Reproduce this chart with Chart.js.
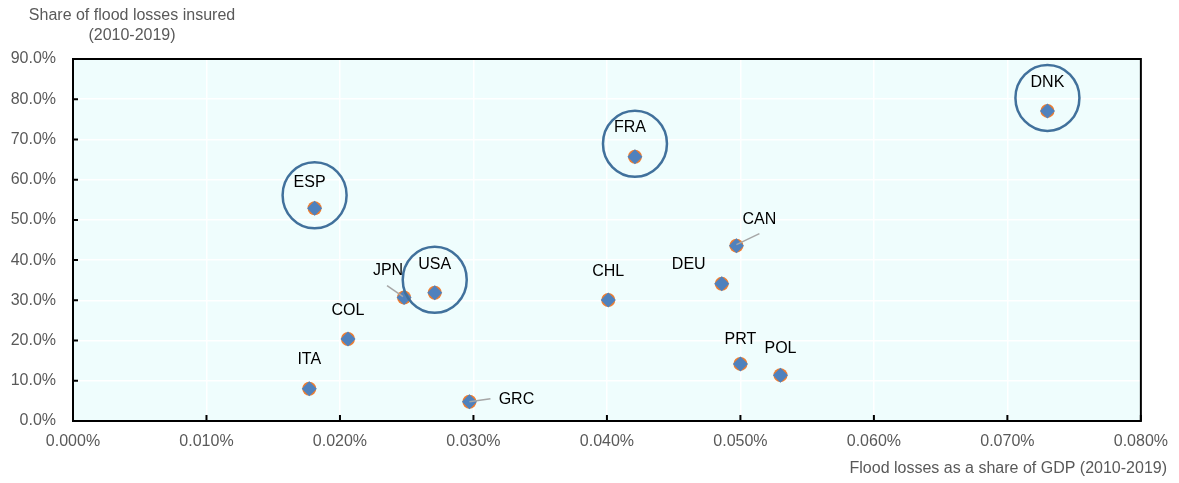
<!DOCTYPE html>
<html>
<head>
<meta charset="utf-8">
<script src="https://cdn.jsdelivr.net/npm/chart.js@4.4.0/dist/chart.umd.min.js"></script>
<style>
  html, body { margin: 0; padding: 0; background: #fff; }
  #wrap { width: 1179px; height: 483px; }
</style>
</head>
<body>
<div id="wrap"><canvas id="flood-chart"></canvas></div>
<script>
// data
var countries = ['DNK', 'FRA', 'ESP', 'CAN', 'DEU', 'USA', 'JPN', 'CHL', 'COL', 'PRT', 'POL', 'ITA', 'GRC'];
var lossShareGdp = [0.0730, 0.0421, 0.0181, 0.0497, 0.0486, 0.0271, 0.0248, 0.0401, 0.0206, 0.0500, 0.0530, 0.0177, 0.0297];
var insuredShare = [77.1, 65.7, 52.9, 43.6, 34.1, 31.9, 30.7, 30.1, 20.4, 14.2, 11.4, 8.0, 4.8];
var circled = ['DNK', 'FRA', 'ESP', 'USA'];

var yTitle = ['Share of flood losses insured', '(2010-2019)'];
var xTitle = 'Flood losses as a share of GDP (2010-2019)';

// label placement (pixels from the marker)
var labelOffset = {
    DNK: [0, -28], FRA: [-5, -29], ESP: [-5, -26], CAN: [23, -26], DEU: [-33, -19],
    USA: [0, -28], JPN: [-16, -27], CHL: [0, -28], COL: [0, -28], PRT: [0, -24],
    POL: [0, -27], ITA: [0, -29], GRC: [47, -2]
};
var leaders = {
    JPN: [-17, -12, -1, -1],
    CAN: [23, -12, 0, -1],
    GRC: [21, -3, 0, 0]
};

var points = countries.map(function (c, i) {
    return { x: lossShareGdp[i], y: insuredShare[i], label: c };
});

var textGrey = '#595959';
var font = '16px "Liberation Sans", Arial, sans-serif';

var decorPlugin = {
    id: 'decor',
    beforeDraw: function (chart) {
        var ctx = chart.ctx, a = chart.chartArea;
        ctx.save();
        ctx.fillStyle = '#EFFDFD';
        ctx.fillRect(a.left, a.top, a.right - a.left, a.bottom - a.top);
        ctx.restore();
    },
    afterDatasetsDraw: function (chart) {
        var ctx = chart.ctx, a = chart.chartArea;
        var xs = chart.scales.x, ys = chart.scales.y;
        ctx.save();
        // frame
        ctx.strokeStyle = '#000';
        ctx.lineWidth = 2;
        ctx.strokeRect(a.left, a.top, a.right - a.left, a.bottom - a.top);
        // inward tick marks
        ctx.beginPath();
        ys.ticks.forEach(function (t) {
            var py = ys.getPixelForValue(t.value);
            ctx.moveTo(a.left, py);
            ctx.lineTo(a.left + 5, py);
        });
        xs.ticks.forEach(function (t) {
            var px = xs.getPixelForValue(t.value);
            ctx.moveTo(px, a.bottom);
            ctx.lineTo(px, a.bottom - 6);
        });
        ctx.stroke();

        // leader lines, labels and rings
        ctx.font = font;
        ctx.textAlign = 'center';
        ctx.textBaseline = 'middle';
        points.forEach(function (p) {
            var px = xs.getPixelForValue(p.x), py = ys.getPixelForValue(p.y);
            var l = leaders[p.label];
            if (l) {
                ctx.strokeStyle = '#A6A6A6';
                ctx.lineWidth = 1.5;
                ctx.beginPath();
                ctx.moveTo(px + l[0], py + l[1]);
                ctx.lineTo(px + l[2], py + l[3]);
                ctx.stroke();
            }
            var o = labelOffset[p.label];
            ctx.fillStyle = '#000';
            ctx.fillText(p.label, px + o[0], py + o[1]);
            if (circled.indexOf(p.label) >= 0) {
                ctx.strokeStyle = '#41719C';
                ctx.lineWidth = 2.5;
                ctx.beginPath();
                ctx.ellipse(px, py - 13, 32, 33, 0, 0, Math.PI * 2);
                ctx.stroke();
            }
        });

        // axis titles
        ctx.fillStyle = textGrey;
        ctx.textAlign = 'center';
        ctx.fillText(yTitle[0], 132, 16);
        ctx.fillText(yTitle[1], 132, 36);
        ctx.textAlign = 'right';
        ctx.fillText(xTitle, 1167, 469);
        ctx.restore();
    }
};

var ctx = document.getElementById('flood-chart').getContext('2d');

var chart = new Chart(ctx, {
    type: 'scatter',
    data: {
        datasets: [{
            data: points,
            pointStyle: 'rectRot',
            pointRadius: 7.5,
            backgroundColor: '#4F81BD',
            borderWidth: 0
        }, {
            data: points,
            pointStyle: 'circle',
            pointRadius: 7,
            backgroundColor: '#ED7D31',
            borderWidth: 0
        }]
    },
    options: {
        responsive: true,
        maintainAspectRatio: false,
        animation: false,
        layout: { padding: { left: 0, top: 59, right: 36, bottom: 0 } },
        plugins: {
            legend: { display: false },
            tooltip: { enabled: false }
        },
        scales: {
            x: {
                type: 'linear',
                min: 0,
                max: 0.08,
                afterFit: function (s) { s.height = 62; },
                grid: { color: '#FFFFFF', lineWidth: 1.5, drawTicks: false },
                border: { display: false },
                ticks: {
                    stepSize: 0.01,
                    padding: 11,
                    color: textGrey,
                    font: { family: '"Liberation Sans", Arial, sans-serif', size: 16 },
                    maxRotation: 0,
                    callback: function (v) { return v.toFixed(3) + '%'; }
                }
            },
            y: {
                min: 0,
                max: 90,
                afterFit: function (s) { s.width = 73; },
                grid: { color: '#FFFFFF', lineWidth: 1.5, drawTicks: false },
                border: { display: false },
                ticks: {
                    stepSize: 10,
                    padding: 17,
                    color: textGrey,
                    font: { family: '"Liberation Sans", Arial, sans-serif', size: 16 },
                    callback: function (v) { return v.toFixed(1) + '%'; }
                }
            }
        }
    },
    plugins: [decorPlugin]
});
</script>
</body>
</html>
